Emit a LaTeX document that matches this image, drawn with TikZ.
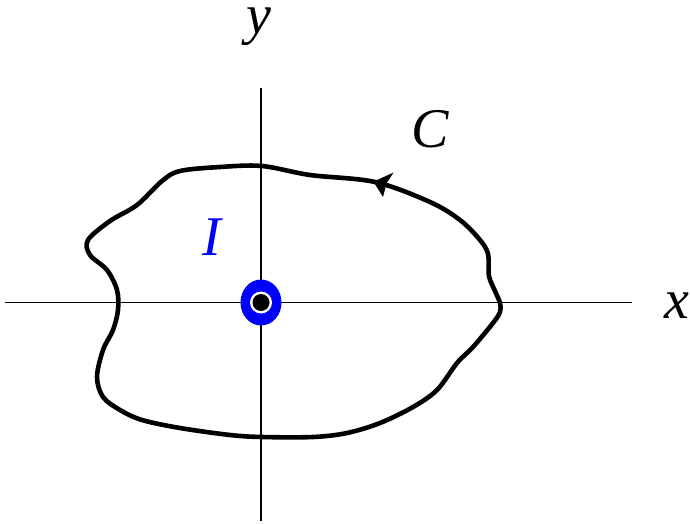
\documentclass[tikz,border=0pt]{standalone}
\usepackage{fontspec}
\setmainfont{Liberation Serif}
\begin{document}
\begin{tikzpicture}[x=1pt,y=-1pt,
  axis/.style={line width=1.7pt, black},
  lbl/.style={font=\fontsize{56}{60}\selectfont\itshape, inner sep=0pt, anchor=base},
  curve/.style={line width=4.6pt, black, line join=round}]
\useasboundingbox (0,0) rectangle (690,524);
% axes
\coordinate (xl) at (5,302.5);
\coordinate (xr) at (632,302.5);
\coordinate (yt) at (261,88);
\coordinate (yb) at (261,521);
\draw[axis] (xl) -- (xr);
\draw[axis] (yt) -- (yb);
% contour C
\draw[curve] plot[smooth cycle, tension=0.55] coordinates {
 (500,303) (495,291) (489,276) (488,254) (480,240) (460,220) (430,202) (375,182)
 (310,175) (262,166) (220,167) (180,171) (162,181) (137,205) (110,221) (88,240)
 (90,255) (107,270) (117,290) (118,310) (113,330) (103,350) (97,377) (103,397)
 (120,410) (142,420) (180,428) (230,435) (262,437) (313,437) (347,433) (380,423)
 (413,407) (437,390) (457,363) (473,347) (493,323) (500,312)};
% arrowhead
\fill[black] (373.5,181.7) -- (393.5,172.5) -- (386.5,183.5) -- (383,197) -- cycle;
% current I
\fill[blue] (261,302.5) ellipse [x radius=20.5, y radius=23];
\fill[white] (261,302.5) circle [radius=11];
\fill[black] (261,302.5) circle [radius=8.5];
% labels
\node[lbl] (ly) at (259,34) {y};
\node[lbl] (lx) at (677,318) {x};
\node[lbl] (lC) at (430,147) {C};
\node[lbl, text=blue] (lI) at (212,255) {I};
\end{tikzpicture}
\end{document}
